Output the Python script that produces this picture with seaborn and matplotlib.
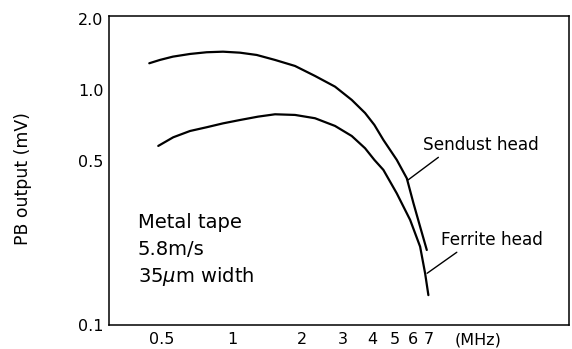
import matplotlib
matplotlib.use("Agg")
import matplotlib.pyplot as plt
import matplotlib.transforms as mtransforms
import seaborn as sns
import pandas as pd

# Data (frequency in MHz, output in mV)
sendust_freq = [0.441, 0.490, 0.557, 0.660, 0.778, 0.915, 1.082, 1.277, 1.531, 1.866,
                2.275, 2.773, 3.272, 3.733, 4.093, 4.475, 5.110, 5.642, 6.025, 6.437, 6.877]
sendust_out = [1.299, 1.342, 1.386, 1.423, 1.447, 1.455, 1.441, 1.409, 1.342, 1.265,
               1.147, 1.033, 0.907, 0.798, 0.710, 0.613, 0.504, 0.421, 0.330, 0.262, 0.2085]
ferrite_freq = [0.482, 0.559, 0.660, 0.778, 0.915, 1.082, 1.294, 1.531, 1.866, 2.275,
                2.773, 3.272, 3.733, 4.093, 4.475, 5.110, 5.831, 6.437, 6.763, 6.986]
ferrite_out = [0.578, 0.629, 0.669, 0.694, 0.721, 0.745, 0.770, 0.788, 0.783, 0.758,
               0.703, 0.637, 0.565, 0.504, 0.457, 0.363, 0.280, 0.2155, 0.166, 0.134]

x_ticks = [0.5, 1, 2, 3, 4, 5, 6, 7]
x_tick_labels = ["0.5", "1", "2", "3", "4", "5", "6", "7"]
y_ticks = [0.1, 0.5, 1.0, 2.0]
y_tick_labels = ["0.1", "0.5", "1.0", "2.0"]

sns.set_theme(style="white")
plt.rcParams["font.family"] = ["DejaVu Sans"]

fig = plt.figure(figsize=(5.72, 3.49), dpi=100)
ax = fig.add_axes([109 / 572, 1 - 325 / 349, 460 / 572, (325 - 15.7) / 349])

df_s = pd.DataFrame({"f": sendust_freq, "v": sendust_out})
df_f = pd.DataFrame({"f": ferrite_freq, "v": ferrite_out})
sns.lineplot(data=df_s, x="f", y="v", ax=ax, color="black", lw=1.6, sort=False)
sns.lineplot(data=df_f, x="f", y="v", ax=ax, color="black", lw=1.6, sort=False)

ax.set_xscale("log")
ax.set_yscale("log")
ax.set_xlim(0.296, 28.1)
ax.set_ylim(0.1, 2.07)

ax.set_xticks(x_ticks)
ax.set_xticklabels(x_tick_labels)
ax.set_yticks(y_ticks)
ax.set_yticklabels(y_tick_labels)
ax.minorticks_off()
ax.tick_params(axis="both", which="major", direction="in", length=6, width=1.0,
               color="black", labelsize=11.5, labelcolor="black")
ax.tick_params(axis="x", pad=5)
ax.tick_params(axis="y", pad=4)

for sp in ax.spines.values():
    sp.set_visible(True)
    sp.set_color("black")
    sp.set_linewidth(1.1)

ax.set_xlabel("")
ax.set_ylabel("PB output (mV)", fontsize=12.4, color="black")
ax.yaxis.set_label_coords(-0.167, 0.472)

trans = mtransforms.blended_transform_factory(ax.transData, ax.transAxes)
ax.text(11.4, -0.0485, "(MHz)", transform=trans, ha="center", va="center",
        fontsize=11.5, color="black")

ax.text(0.063, 0.333, "Metal tape", transform=ax.transAxes, fontsize=14, va="center", color="black")
ax.text(0.063, 0.2425, "5.8m/s", transform=ax.transAxes, fontsize=14, va="center", color="black")
ax.text(0.063, 0.158, "35$\\mu$m width", transform=ax.transAxes, fontsize=14, va="center", color="black")

ax.annotate("Sendust head", xy=(5.71, 0.414), xytext=(6.63, 0.583),
            fontsize=12.2, va="center", ha="left", color="black",
            arrowprops=dict(arrowstyle="-", color="black", lw=1.0,
                            shrinkA=0, shrinkB=0,
                            relpos=(0.17, 0.0)))
ax.annotate("Ferrite head", xy=(6.9, 0.166), xytext=(7.92, 0.230),
            fontsize=12.2, va="center", ha="left", color="black",
            arrowprops=dict(arrowstyle="-", color="black", lw=1.0,
                            shrinkA=0, shrinkB=0,
                            relpos=(0.2, 0.0)))

fig.savefig("out.png", dpi=100)
